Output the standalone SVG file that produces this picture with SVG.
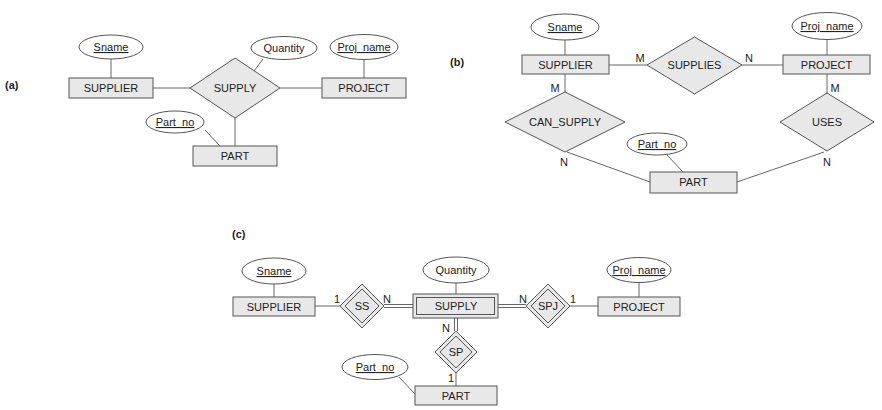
<svg xmlns="http://www.w3.org/2000/svg" width="882" height="410" viewBox="0 0 882 410">
  <style>
    text { font-family: "Liberation Sans", Arial, sans-serif; font-size: 11px; fill: #222; text-anchor: middle; }
    .panel { font-weight: bold; text-anchor: start; }
    .key { text-decoration: underline; }
    .ent, .rel { fill: #e8e8e8; stroke: #555; stroke-width: 1; }
    .relin { fill: none; stroke: #555; stroke-width: 1; }
    .attr { fill: #fff; stroke: #555; stroke-width: 1; }
    .conn line { stroke: #666; stroke-width: 1; }
  </style>
  <rect width="882" height="410" fill="#fff"/>

  <!-- (a) ternary relationship -->
  <text class="panel" x="5" y="89">(a)</text>
  <g id="conn-a" class="conn">
    <line x1="111" y1="59" x2="111" y2="78"/>
    <line x1="153" y1="88" x2="190" y2="88"/>
    <line x1="280" y1="88" x2="322" y2="88"/>
    <line x1="364" y1="59.5" x2="364" y2="78"/>
    <line x1="263" y1="59" x2="254" y2="71"/>
    <line x1="235" y1="118" x2="235" y2="146"/>
    <line x1="205" y1="130" x2="220" y2="146"/>
  </g>
  <g id="a-sname"><ellipse class="attr" cx="111" cy="47" rx="32" ry="12"/><text class="key" x="111" y="51">Sname</text></g>
  <g id="a-quantity"><ellipse class="attr" cx="284" cy="48" rx="33" ry="11.5"/><text x="284" y="52">Quantity</text></g>
  <g id="a-projname"><ellipse class="attr" cx="364" cy="47" rx="34" ry="12.5"/><text class="key" x="364" y="51">Proj_name</text></g>
  <g id="a-partno"><ellipse class="attr" cx="175" cy="122" rx="29" ry="11"/><text class="key" x="175" y="126">Part_no</text></g>
  <g id="a-supplier"><rect class="ent" x="69" y="78" width="84" height="20"/><text x="111" y="92">SUPPLIER</text></g>
  <g id="a-supply"><polygon class="rel" points="190,88 235,58 280,88 235,118"/><text x="235" y="92">SUPPLY</text></g>
  <g id="a-project"><rect class="ent" x="322" y="78" width="84" height="20"/><text x="364" y="92">PROJECT</text></g>
  <g id="a-part"><rect class="ent" x="193" y="146" width="84" height="20"/><text x="235" y="160">PART</text></g>

  <!-- (b) three binary relationships -->
  <text class="panel" x="450" y="66">(b)</text>
  <g id="conn-b" class="conn">
    <line x1="565" y1="40" x2="565" y2="55"/>
    <line x1="827" y1="39.5" x2="827" y2="55"/>
    <line x1="609" y1="65" x2="647" y2="65"/>
    <line x1="742" y1="65" x2="783" y2="65"/>
    <line x1="565" y1="74" x2="565" y2="92"/>
    <line x1="827" y1="74" x2="827" y2="93"/>
    <line x1="567" y1="152" x2="650" y2="182"/>
    <line x1="824" y1="152" x2="737" y2="182"/>
    <line x1="667" y1="155" x2="683" y2="172"/>
    <text x="640" y="62">M</text>
    <text x="749" y="62">N</text>
    <text x="555" y="92">M</text>
    <text x="564" y="166">N</text>
    <text x="835" y="92">M</text>
    <text x="827" y="166">N</text>
  </g>
  <g id="b-sname"><ellipse class="attr" cx="565" cy="27" rx="34" ry="13"/><text class="key" x="565" y="31">Sname</text></g>
  <g id="b-projname"><ellipse class="attr" cx="827" cy="26" rx="35" ry="13.5"/><text class="key" x="827" y="30">Proj_name</text></g>
  <g id="b-partno"><ellipse class="attr" cx="657" cy="144" rx="30" ry="11"/><text class="key" x="657" y="148">Part_no</text></g>
  <g id="b-supplier"><rect class="ent" x="522" y="55" width="87" height="19"/><text x="565.5" y="68.5">SUPPLIER</text></g>
  <g id="b-supplies"><polygon class="rel" points="647,65 694.5,37 742,65 694.5,94"/><text x="694.5" y="69">SUPPLIES</text></g>
  <g id="b-project"><rect class="ent" x="783" y="55" width="87" height="19"/><text x="826.5" y="68.5">PROJECT</text></g>
  <g id="b-cansupply"><polygon class="rel" points="505,122 565,92 625,122 565,152"/><text x="565" y="126">CAN_SUPPLY</text></g>
  <g id="b-uses"><polygon class="rel" points="780,122 827,93 874,122 827,151"/><text x="827" y="126">USES</text></g>
  <g id="b-part"><rect class="ent" x="650" y="172" width="87" height="21"/><text x="693.5" y="186">PART</text></g>

  <!-- (c) weak entity with identifying relationships -->
  <text class="panel" x="232" y="238">(c)</text>
  <g id="conn-c" class="conn">
    <line x1="274" y1="284" x2="274" y2="297"/>
    <line x1="315" y1="306" x2="340" y2="306"/>
    <line x1="384" y1="304.5" x2="413" y2="304.5"/>
    <line x1="384" y1="307.5" x2="413" y2="307.5"/>
    <line x1="456" y1="283" x2="456" y2="294"/>
    <line x1="498" y1="304.5" x2="526" y2="304.5"/>
    <line x1="498" y1="307.5" x2="526" y2="307.5"/>
    <line x1="570" y1="306" x2="598" y2="306"/>
    <line x1="639" y1="282.5" x2="639" y2="297"/>
    <line x1="454.5" y1="318" x2="454.5" y2="331"/>
    <line x1="457.5" y1="318" x2="457.5" y2="331"/>
    <line x1="456" y1="373" x2="456" y2="386"/>
    <line x1="399" y1="377" x2="415" y2="394"/>
    <text x="337" y="303">1</text>
    <text x="387" y="303">N</text>
    <text x="523" y="303">N</text>
    <text x="573" y="303">1</text>
    <text x="446" y="332">N</text>
    <text x="451" y="382">1</text>
  </g>
  <g id="c-sname"><ellipse class="attr" cx="274" cy="271" rx="32" ry="13"/><text class="key" x="274" y="275">Sname</text></g>
  <g id="c-quantity"><ellipse class="attr" cx="456" cy="270" rx="33" ry="13"/><text x="456" y="274">Quantity</text></g>
  <g id="c-projname"><ellipse class="attr" cx="639" cy="270" rx="32" ry="12.5"/><text class="key" x="639" y="274">Proj_name</text></g>
  <g id="c-partno"><ellipse class="attr" cx="375" cy="367" rx="33" ry="12.5"/><text class="key" x="375" y="371">Part_no</text></g>
  <g id="c-supplier"><rect class="ent" x="233" y="297" width="82" height="19"/><text x="274" y="310.5">SUPPLIER</text></g>
  <g id="c-ss">
    <polygon class="rel" points="340,306 362,284 384,306 362,328"/>
    <polygon class="relin" points="345,306 362,289 379,306 362,323"/>
    <text x="362" y="310">SS</text>
  </g>
  <g id="c-supply">
    <rect class="ent" x="413" y="294" width="85" height="24"/>
    <rect class="relin" x="416.5" y="297.5" width="78" height="17"/>
    <text x="456" y="310">SUPPLY</text>
  </g>
  <g id="c-spj">
    <polygon class="rel" points="526,306 548,284 570,306 548,328"/>
    <polygon class="relin" points="531,306 548,289 565,306 548,323"/>
    <text x="548" y="310">SPJ</text>
  </g>
  <g id="c-project"><rect class="ent" x="598" y="297" width="82" height="19"/><text x="639" y="310.5">PROJECT</text></g>
  <g id="c-sp">
    <polygon class="rel" points="435,352 456,331 477,352 456,373"/>
    <polygon class="relin" points="440,352 456,336 472,352 456,368"/>
    <text x="456" y="356">SP</text>
  </g>
  <g id="c-part"><rect class="ent" x="415" y="386" width="82" height="19"/><text x="456" y="399.5">PART</text></g>
</svg>
